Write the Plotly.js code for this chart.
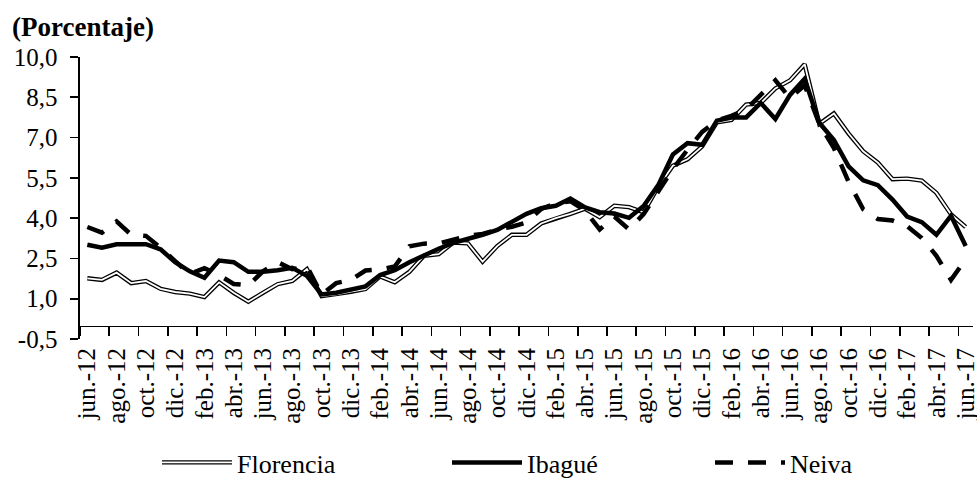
<!DOCTYPE html>
<html><head><meta charset="utf-8">
<script src="https://cdn.plot.ly/plotly-3.0.1.min.js"></script>
<style>html,body{margin:0;padding:0;background:#fff;}#chart{width:977px;height:490px;}</style>
</head><body><div id="chart"></div>
<script>
// Category labels (monthly, jun.-12 .. jun.-17)
const months = [
 'jun.-12','jul.-12','ago.-12','sep.-12','oct.-12','nov.-12','dic.-12',
 'ene.-13','feb.-13','mar.-13','abr.-13','may.-13','jun.-13','jul.-13','ago.-13','sep.-13','oct.-13','nov.-13','dic.-13',
 'ene.-14','feb.-14','mar.-14','abr.-14','may.-14','jun.-14','jul.-14','ago.-14','sep.-14','oct.-14','nov.-14','dic.-14',
 'ene.-15','feb.-15','mar.-15','abr.-15','may.-15','jun.-15','jul.-15','ago.-15','sep.-15','oct.-15','nov.-15','dic.-15',
 'ene.-16','feb.-16','mar.-16','abr.-16','may.-16','jun.-16','jul.-16','ago.-16','sep.-16','oct.-16','nov.-16','dic.-16',
 'ene.-17','feb.-17','mar.-17','abr.-17','may.-17','jun.-17'
];

// Series values (percent)
const florencia = [
 1.76,1.70,1.97,1.58,1.66,1.37,1.25,1.19,1.06,1.61,1.22,0.89,1.22,1.54,1.66,2.10,
 1.10,1.16,1.26,1.36,1.83,1.61,2.00,2.60,2.66,3.09,3.06,2.38,2.96,3.38,3.38,3.80,
 4.00,4.16,4.35,4.04,4.46,4.41,4.22,5.17,5.95,6.19,6.67,7.57,7.66,8.23,8.29,8.83,
 9.13,9.73,7.51,7.90,7.15,6.49,6.07,5.45,5.47,5.40,4.94,4.14,3.67
];
const ibague = [
 3.01,2.90,3.03,3.03,3.03,2.84,2.36,2.02,1.78,2.42,2.36,2.00,2.00,2.06,2.15,1.85,
 1.16,1.22,1.35,1.46,1.88,2.06,2.36,2.62,2.86,3.08,3.22,3.38,3.56,3.86,4.16,4.37,
 4.46,4.73,4.40,4.22,4.17,4.01,4.45,5.23,6.37,6.79,6.73,7.63,7.75,7.75,8.29,7.69,
 8.59,9.19,7.55,6.91,5.93,5.41,5.23,4.69,4.06,3.85,3.38,4.09,2.96
];
const neiva = [
 3.67,3.46,3.88,3.38,3.34,2.90,2.40,1.92,2.14,1.88,1.55,1.50,2.02,2.36,2.10,2.20,
 1.16,1.58,1.70,2.05,2.09,2.20,2.95,3.05,3.06,3.20,3.34,3.41,3.57,3.68,3.84,4.34,
 4.55,4.63,4.28,3.58,4.06,3.58,4.15,4.99,5.83,6.55,7.21,7.63,7.81,8.05,8.59,9.13,
 8.47,8.95,7.51,6.61,5.35,4.33,3.97,3.91,3.70,3.26,2.60,1.70,2.47
];

// Axis tick labels
const yTickVals = [-0.5,1.0,2.5,4.0,5.5,7.0,8.5,10.0];
const yTickText = ['-0,5','1,0','2,5','4,0','5,5','7,0','8,5','10,0'];

const xIdx = months.map((m,i)=>i);
const labelIdx = xIdx.filter(i => i % 2 === 0);
const labelText = labelIdx.map(i => months[i]);
const boundaryIdx = labelIdx.map(i => i - 0.5);
const yMin = yTickVals[0], yMax = yTickVals[yTickVals.length-1];

const FONT = 'Liberation Serif, Times New Roman, Times, serif';

const data = [
 {x:xIdx, y:florencia, mode:'lines', name:'Florencia', legend:'legend',
  line:{color:'#000', width:4.4}, hoverinfo:'skip'},
 {x:xIdx, y:florencia, mode:'lines', name:'Florencia', showlegend:false,
  line:{color:'#fff', width:1.8}, hoverinfo:'skip'},
 {x:xIdx, y:ibague, mode:'lines', name:'Ibagué', legend:'legend2',
  line:{color:'#000', width:4.5}, hoverinfo:'skip'},
 {x:xIdx, y:neiva, mode:'lines', name:'Neiva', legend:'legend3',
  line:{color:'#000', width:4.5, dash:'18px,15px'}, hoverinfo:'skip'},
 // carrier for the label axis (no visible marks)
 {x:labelIdx, y:labelIdx.map(()=>null), xaxis:'x2', yaxis:'y', mode:'lines',
  showlegend:false, hoverinfo:'skip', line:{width:0}}
];

const legBase = {orientation:'h', xanchor:'left', yanchor:'middle', y:-0.438,
  itemwidth:70, font:{family:FONT, size:26, color:'#000'}, bgcolor:'rgba(0,0,0,0)', borderwidth:0};

const layout = {
 width:977, height:490,
 margin:{l:80, r:4, t:57, b:141},
 paper_bgcolor:'#fff', plot_bgcolor:'#fff',
 font:{family:FONT, color:'#000', size:22},
 showlegend:true,
 title:{text:'<b>(Porcentaje)</b>', font:{family:FONT, size:27, color:'#000'},
        xref:'container', yref:'container', x:12/977, xanchor:'left', y:1-27/490, yanchor:'middle'},
 xaxis:{range:[-0.5, months.length-0.5], anchor:'free', position:(0-yMin)/(yMax-yMin),
        tickmode:'array', tickvals:boundaryIdx, showticklabels:false,
        ticks:'outside', ticklen:9, tickwidth:1.6, tickcolor:'#000',
        showline:true, linecolor:'#000', linewidth:1.6, showgrid:false, zeroline:false, fixedrange:true},
 xaxis2:{overlaying:'x', anchor:'y', side:'bottom', range:[-0.5, months.length-0.5],
        tickmode:'array', tickvals:labelIdx, ticktext:labelText, tickangle:-90,
        ticks:'', ticklabelstandoff:3, ticklabeloverflow:'allow',
        showline:false, showgrid:false, zeroline:false,
        tickfont:{family:FONT, size:25, color:'#000'}, fixedrange:true},
 yaxis:{range:[yMin, yMax], tickmode:'array', tickvals:yTickVals, ticktext:yTickText,
        ticks:'outside', ticklen:8, tickwidth:1.6, tickcolor:'#000', ticklabelstandoff:8,
        showline:true, linecolor:'#000', linewidth:1.6, showgrid:false, zeroline:false,
        tickfont:{family:FONT, size:25, color:'#000'}, fixedrange:true},
 legend: Object.assign({}, legBase, {x:(157-80)/893}),
 legend2: Object.assign({}, legBase, {x:(447-80)/893}),
 legend3: Object.assign({}, legBase, {x:(710-80)/893})
};

Plotly.newPlot('chart', data, layout, {staticPlot:true, displayModeBar:false}).then(gd => {
  gd.querySelectorAll('g.traces').forEach(g => {
    const t = g.querySelector('text.legendtext');
    if (t && t.textContent === 'Florencia') {
      const p = g.querySelector('path.js-line');
      if (p) {
        const c = p.cloneNode(true);
        c.style.stroke = '#fff';
        c.style.strokeWidth = '1.8px';
        p.parentNode.appendChild(c);
      }
    }
  });
});
</script>
</body></html>
